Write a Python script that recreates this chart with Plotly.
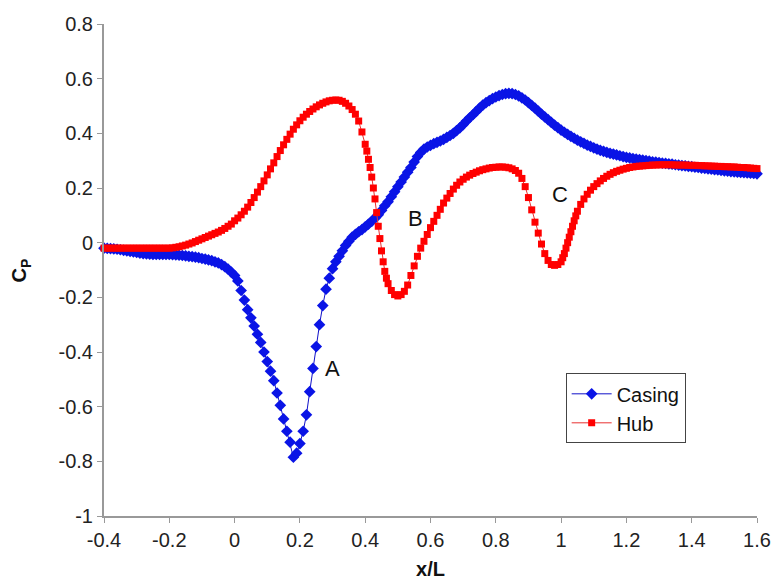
import plotly.graph_objects as go

# Casing (blue) data
casing_x = [-0.40,-0.39,-0.38,-0.37,-0.36,-0.35,-0.34,-0.33,-0.32,-0.31,-0.30,-0.29,-0.28,-0.27,-0.26,-0.25,-0.24,-0.23,-0.22,-0.21,
            -0.20,-0.19,-0.18,-0.17,-0.16,-0.15,-0.14,-0.13,-0.12,-0.11,-0.10,-0.09,-0.08,-0.07,-0.06,-0.05,-0.04,-0.03,-0.02,-0.01,
            0.00,0.01,0.02,0.03,0.04,0.05,0.06,0.07,0.08,0.09,0.10,0.11,0.12,0.13,0.14,0.15,0.16,0.17,0.18,0.19,
            0.20,0.21,0.22,0.23,0.24,0.25,0.26,0.27,0.28,0.29,0.30,0.31,0.32,0.33,0.34,0.35,0.36,0.37,0.38,0.39,
            0.40,0.41,0.42,0.43,0.44,0.45,0.46,0.47,0.48,0.49,0.50,0.51,0.52,0.53,0.54,0.55,0.56,0.57,0.58,0.59,
            0.60,0.61,0.62,0.63,0.64,0.65,0.66,0.67,0.68,0.69,0.70,0.71,0.72,0.73,0.74,0.75,0.76,0.77,0.78,0.79,
            0.80,0.81,0.82,0.83,0.84,0.85,0.86,0.87,0.88,0.89,0.90,0.91,0.92,0.93,0.94,0.95,0.96,0.97,0.98,0.99,
            1.00,1.01,1.02,1.03,1.04,1.05,1.06,1.07,1.08,1.09,1.10,1.11,1.12,1.13,1.14,1.15,1.16,1.17,1.18,1.19,
            1.20,1.21,1.22,1.23,1.24,1.25,1.26,1.27,1.28,1.29,1.30,1.31,1.32,1.33,1.34,1.35,1.36,1.37,1.38,1.39,
            1.40,1.41,1.42,1.43,1.44,1.45,1.46,1.47,1.48,1.49,1.50,1.51,1.52,1.53,1.54,1.55,1.56,1.57,1.58,1.59,
            1.60,1.61,1.62]
casing_y = [-0.020,-0.021,-0.022,-0.023,-0.024,-0.026,-0.028,-0.030,-0.032,-0.034,-0.036,-0.038,-0.040,-0.041,-0.042,-0.043,-0.043,-0.043,-0.043,-0.043,
            -0.043,-0.044,-0.045,-0.046,-0.047,-0.048,-0.050,-0.051,-0.053,-0.055,-0.058,-0.060,-0.063,-0.066,-0.070,-0.074,-0.080,-0.088,-0.097,-0.108,
            -0.120,-0.140,-0.175,-0.210,-0.245,-0.275,-0.305,-0.335,-0.365,-0.400,-0.435,-0.470,-0.505,-0.550,-0.595,-0.645,-0.690,-0.730,-0.785,-0.770,
            -0.735,-0.690,-0.630,-0.545,-0.460,-0.380,-0.300,-0.230,-0.170,-0.130,-0.095,-0.070,-0.050,-0.030,-0.010,0.005,0.020,0.030,0.040,0.048,
            0.058,0.068,0.078,0.090,0.102,0.118,0.135,0.150,0.168,0.186,0.205,0.222,0.240,0.258,0.275,0.295,0.315,0.330,0.342,0.350,
            0.356,0.362,0.367,0.372,0.378,0.385,0.392,0.400,0.410,0.420,0.432,0.445,0.457,0.468,0.480,0.492,0.503,0.512,0.520,0.527,
            0.533,0.538,0.542,0.545,0.546,0.545,0.542,0.537,0.530,0.522,0.512,0.502,0.492,0.481,0.470,0.460,0.450,0.440,0.430,0.421,
            0.412,0.404,0.396,0.389,0.382,0.375,0.369,0.363,0.357,0.352,0.347,0.342,0.338,0.334,0.330,0.327,0.324,0.321,0.318,0.315,
            0.312,0.310,0.308,0.306,0.304,0.302,0.300,0.298,0.296,0.295,0.293,0.291,0.290,0.288,0.287,0.285,0.284,0.282,0.281,0.279,
            0.278,0.276,0.275,0.273,0.272,0.270,0.269,0.267,0.266,0.264,0.263,0.262,0.260,0.259,0.258,0.257,0.256,0.255,0.254,0.253,
            0.252,0.252,0.251]

# Hub (red) data
hub_x = [-0.40,-0.39,-0.38,-0.37,-0.36,-0.35,-0.34,-0.33,-0.32,-0.31,-0.30,-0.29,-0.28,-0.27,-0.26,-0.25,-0.24,-0.23,-0.22,-0.21,
         -0.20,-0.19,-0.18,-0.17,-0.16,-0.15,-0.14,-0.13,-0.12,-0.11,-0.10,-0.09,-0.08,-0.07,-0.06,-0.05,-0.04,-0.03,-0.02,-0.01,
         0.00,0.01,0.02,0.03,0.04,0.05,0.06,0.07,0.08,0.09,0.10,0.11,0.12,0.13,0.14,0.15,0.16,0.17,0.18,0.19,
         0.20,0.21,0.22,0.23,0.24,0.25,0.26,0.27,0.28,0.29,0.30,0.31,0.32,0.33,0.34,0.35,0.36,0.37,0.38,0.39,
         0.40,0.405,0.41,0.415,0.42,0.425,0.43,0.435,0.44,0.445,0.45,0.455,0.46,0.465,0.47,0.48,0.49,
         0.50,0.51,0.52,0.53,0.54,0.55,0.56,0.57,0.58,0.59,
         0.60,0.61,0.62,0.63,0.64,0.65,0.66,0.67,0.68,0.69,0.70,0.71,0.72,0.73,0.74,0.75,0.76,0.77,0.78,0.79,
         0.80,0.81,0.82,0.83,0.84,0.85,0.86,0.87,0.88,0.89,0.90,0.91,0.92,0.93,0.94,0.95,0.96,0.97,0.98,0.99,
         1.00,1.005,1.01,1.015,1.02,1.025,1.03,1.035,1.04,1.045,1.05,1.06,1.07,1.08,1.09,1.10,1.11,1.12,1.13,1.14,1.15,1.16,1.17,1.18,1.19,
         1.20,1.21,1.22,1.23,1.24,1.25,1.26,1.27,1.28,1.29,1.30,1.31,1.32,1.33,1.34,1.35,1.36,1.37,1.38,1.39,
         1.40,1.41,1.42,1.43,1.44,1.45,1.46,1.47,1.48,1.49,1.50,1.51,1.52,1.53,1.54,1.55,1.56,1.57,1.58,1.59,
         1.60,1.61,1.62]
hub_y = [-0.020,-0.020,-0.020,-0.020,-0.020,-0.020,-0.020,-0.020,-0.020,-0.020,-0.020,-0.020,-0.020,-0.020,-0.020,-0.020,-0.020,-0.020,-0.020,-0.020,
         -0.020,-0.019,-0.017,-0.015,-0.012,-0.009,-0.005,-0.001,0.004,0.009,0.014,0.019,0.024,0.029,0.034,0.039,0.045,0.052,0.060,0.068,
         0.080,0.090,0.102,0.115,0.130,0.147,0.165,0.185,0.205,0.226,0.248,0.270,0.292,0.315,0.337,0.358,0.378,0.397,0.415,0.431,
         0.446,0.459,0.470,0.480,0.489,0.497,0.504,0.510,0.515,0.519,0.521,0.522,0.521,0.517,0.510,0.500,0.487,0.470,0.445,0.405,
         0.360,0.335,0.305,0.275,0.240,0.200,0.160,0.110,0.060,0.015,-0.030,-0.070,-0.105,-0.130,-0.150,-0.175,-0.190,
         -0.195,-0.190,-0.178,-0.155,-0.120,-0.085,-0.050,-0.020,0.005,0.030,
         0.055,0.078,0.100,0.122,0.145,0.163,0.180,0.196,0.210,0.222,0.232,0.240,0.247,0.253,0.258,0.263,0.267,0.270,0.273,0.275,
         0.276,0.277,0.277,0.276,0.274,0.270,0.264,0.254,0.235,0.205,0.165,0.120,0.075,0.035,-0.005,-0.040,-0.065,-0.080,-0.083,-0.080,
         -0.070,-0.055,-0.040,-0.020,0.000,0.020,0.040,0.060,0.080,0.098,0.115,0.140,0.160,0.177,0.192,0.205,0.216,0.226,0.235,0.243,0.250,0.256,0.261,0.265,0.269,
         0.272,0.275,0.277,0.279,0.280,0.281,0.282,0.283,0.284,0.284,0.285,0.285,0.285,0.285,0.285,0.284,0.284,0.284,0.284,0.283,
         0.283,0.283,0.282,0.282,0.281,0.281,0.280,0.280,0.279,0.279,0.278,0.278,0.277,0.277,0.276,0.275,0.275,0.274,0.273,0.272,
         0.271,0.270,0.270]

x_ticks = [-0.4, -0.2, 0, 0.2, 0.4, 0.6, 0.8, 1, 1.2, 1.4, 1.6]
x_tick_labels = ["-0.4", "-0.2", "0", "0.2", "0.4", "0.6", "0.8", "1", "1.2", "1.4", "1.6"]
y_ticks = [-1, -0.8, -0.6, -0.4, -0.2, 0, 0.2, 0.4, 0.6, 0.8]
y_tick_labels = ["-1", "-0.8", "-0.6", "-0.4", "-0.2", "0", "0.2", "0.4", "0.6", "0.8"]

labels = ["A", "B", "C"]
label_x = [0.30, 0.553, 0.997]
label_y = [-0.46, 0.09, 0.175]

FONT = "Liberation Sans, Arial, sans-serif"

fig = go.Figure()
fig.add_trace(go.Scatter(
    x=casing_x, y=casing_y, name="Casing", mode="lines+markers",
    line=dict(color="#1010c8", width=1),
    marker=dict(symbol="diamond", size=9, color="#0a14e6"),
    cliponaxis=False,
))
fig.add_trace(go.Scatter(
    x=hub_x, y=hub_y, name="Hub", mode="lines+markers",
    line=dict(color="#e83030", width=1),
    marker=dict(symbol="square", size=7, color="#ff0000"),
    cliponaxis=False,
))

for t, ax, ay in zip(labels, label_x, label_y):
    fig.add_annotation(x=ax, y=ay, text=t, showarrow=False,
                       font=dict(family=FONT, size=22, color="#111"))

fig.add_annotation(xref="paper", yref="paper", x=-0.128, y=0.50, xanchor="center",
                   text="<b>C<sub>P</sub></b>", textangle=-90, showarrow=False,
                   font=dict(family=FONT, size=20, color="#111"))

fig.update_layout(
    width=775, height=575,
    margin=dict(l=96, r=26, t=16, b=67, autoexpand=False),
    paper_bgcolor="white", plot_bgcolor="white",
    font=dict(family=FONT, size=20, color="#222"),
    showlegend=True,
    legend=dict(x=0.707, y=0.29, xanchor="left", yanchor="top",
                bordercolor="#444", borderwidth=1, bgcolor="white",
                font=dict(family=FONT, size=20, color="#111"),
                tracegroupgap=0, itemwidth=40),
    xaxis=dict(range=[-0.4, 1.6], tickvals=x_ticks, ticktext=x_tick_labels,
               showgrid=False, zeroline=False, showline=True, linecolor="#999",
               linewidth=2, ticks="outside", tickcolor="#999", ticklen=5, automargin=False,
               title=dict(text="<b>x/L</b>", font=dict(family=FONT, size=20, color="#111"), standoff=12)),
    yaxis=dict(range=[-1, 0.8], tickvals=y_ticks, ticktext=y_tick_labels,
               showgrid=False, zeroline=False, showline=True, linecolor="#999",
               linewidth=2, ticks="outside", tickcolor="#999", ticklen=5, automargin=False),
)

fig.write_html("out.html")
